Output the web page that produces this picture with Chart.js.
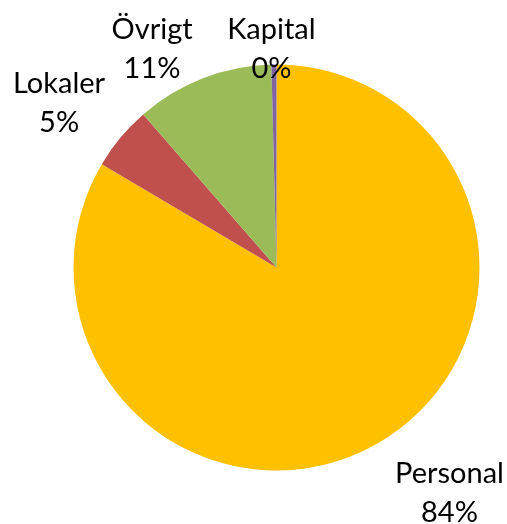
<!DOCTYPE html>
<html>
<head>
<meta charset="utf-8">
<script src="https://cdn.jsdelivr.net/npm/chart.js@4"></script>
<style>
  html, body { margin: 0; padding: 0; background: #fff; }
  #wrap { width: 507px; height: 524px; }
</style>
</head>
<body>
<div id="wrap"><canvas id="pie"></canvas></div>
<script>
const categories = ["Personal", "Lokaler", "Övrigt", "Kapital"];
const shares = [83.5, 5.1, 11.0, 0.4];
const sliceColors = ["#FFC000", "#C0504D", "#9BBB59", "#8064A2"];

// where each label sits, relative to the pie centre, in units of the radius (first line baseline)
const labelSpots = [
  [0.852, 1.062],
  [-1.071, -0.86],
  [-0.613, -1.126],
  [-0.025, -1.126],
];

const total = shares.reduce((a, b) => a + b, 0);

const pieLabels = {
  id: "pieLabels",
  afterDatasetsDraw(chart) {
    const ctx = chart.ctx;
    const arcs = chart.getDatasetMeta(0).data;
    ctx.save();
    ctx.font = "29px Lato";
    ctx.fillStyle = "#000";
    ctx.textAlign = "center";
    ctx.textBaseline = "alphabetic";
    arcs.forEach((arc, i) => {
      const r = arc.outerRadius;
      const x = arc.x + labelSpots[i][0] * r;
      const y = arc.y + labelSpots[i][1] * r;
      const pct = Math.round((shares[i] / total) * 100) + "%";
      ctx.fillText(categories[i], x, y);
      ctx.fillText(pct, x, y + 39);
    });
    ctx.restore();
  },
};

new Chart(document.getElementById("pie"), {
  type: "pie",
  data: {
    labels: categories,
    datasets: [
      {
        data: shares,
        backgroundColor: sliceColors,
        borderWidth: 0,
      },
    ],
  },
  options: {
    responsive: true,
    maintainAspectRatio: false,
    animation: false,
    layout: {
      padding: { left: 73.5, right: 27.5, top: 64.5, bottom: 53.5 },
    },
    plugins: {
      legend: { display: false },
      tooltip: { enabled: false },
    },
  },
  plugins: [pieLabels],
});
</script>
</body>
</html>
